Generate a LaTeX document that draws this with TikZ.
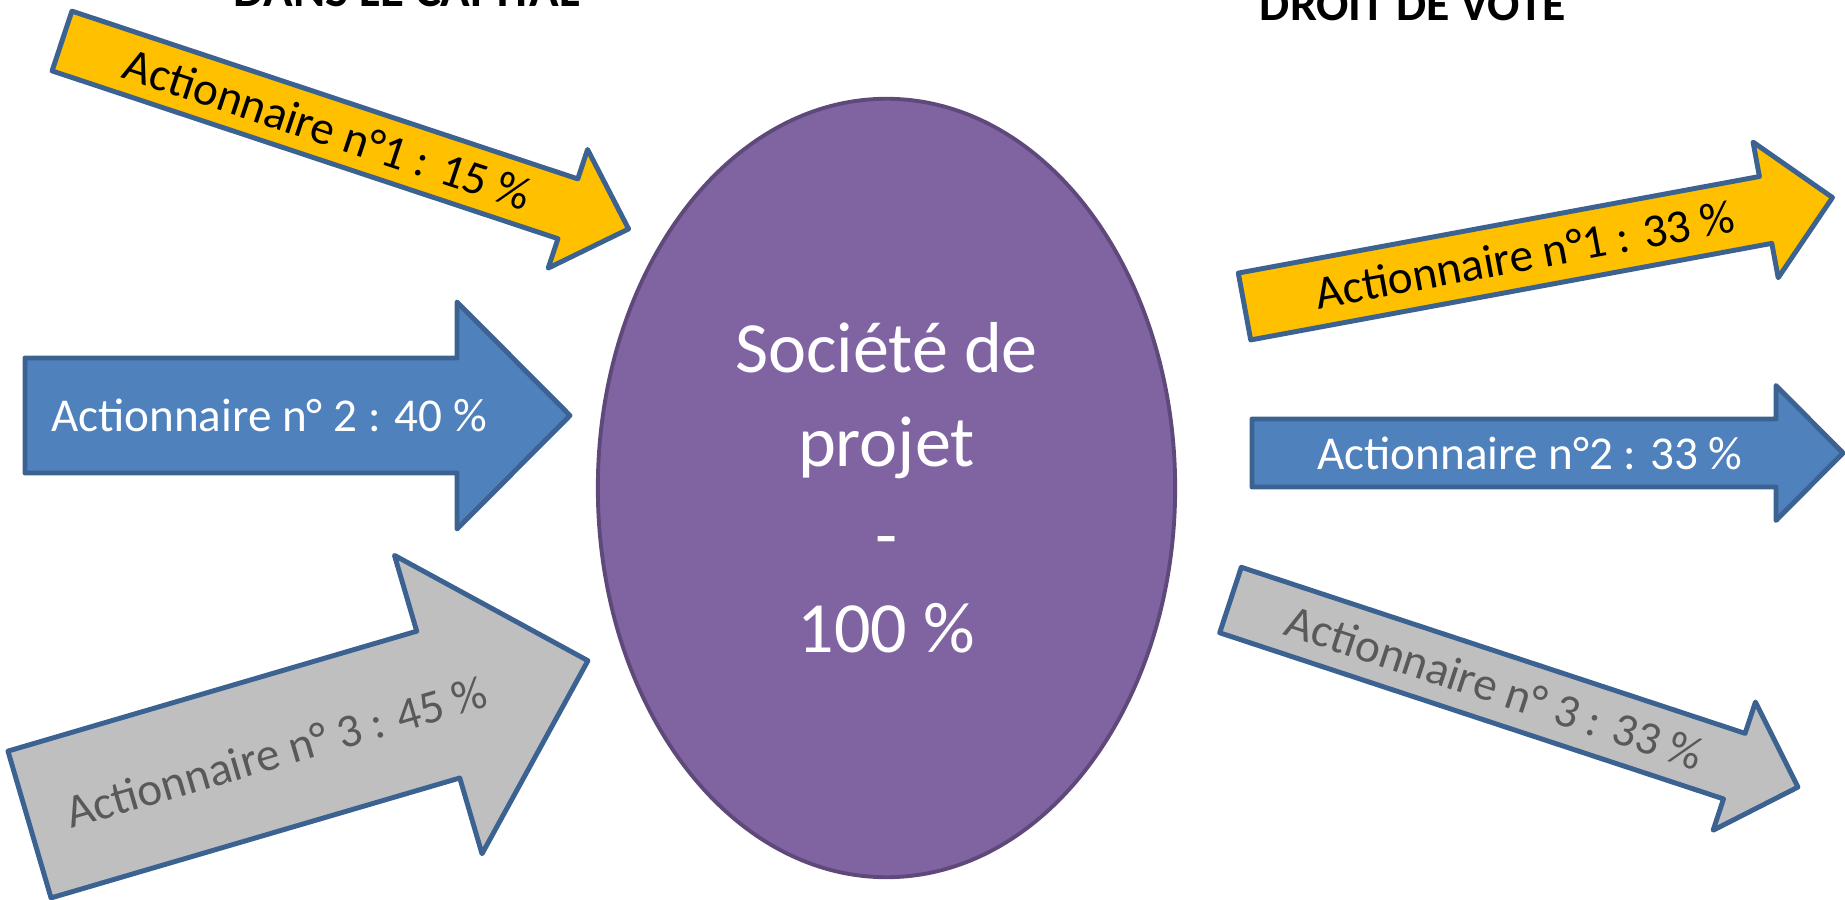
\documentclass[tikz,border=0pt]{standalone}
\usepackage{fontspec}
\setmainfont{Carlito}
\usepackage{tikz}
\usetikzlibrary{shapes.geometric}

\definecolor{jaune}{HTML}{FFC000}
\definecolor{bleu}{HTML}{4F81BD}
\definecolor{gris}{HTML}{BFBFBF}
\definecolor{grisfonce}{HTML}{595959}
\definecolor{bordfleche}{HTML}{3B6291}
\definecolor{violet}{HTML}{8064A2}
\definecolor{bordviolet}{HTML}{5F497A}

\begin{document}
\begin{tikzpicture}[x=0.01cm, y=-0.01cm,
  fleche/.style={draw=bordfleche, line width=1.4pt, line join=round},
  etiq/.style={font=\fontsize{13.4}{16}\selectfont, inner sep=0pt},
  titre/.style={font=\bfseries\fontsize{13.6}{16}\selectfont, anchor=base, inner sep=0pt}]

\useasboundingbox (0,0) rectangle (1845,900);

%//titres, coupes par le haut
\node [titre, font=\bfseries\fontsize{13.9}{16}\selectfont] (capital) at (407,6) {DANS LE CAPITAL};
\node [titre] (vote) at (1413,21) {DROIT DE VOTE};

%//la societe
\node [ellipse, draw=bordviolet, line width=1.1pt, fill=violet, text=white,
       minimum width=5.77cm, minimum height=7.78cm, align=center,
       font=\fontsize{20.5}{26.5}\selectfont] (societe) at (886.5,488)
      {Soci\'et\'e de\\projet\\-\\100 \%};

%//fleches : nom/x/y/angle/longueur/largeur/tete/pointe/fond/texte/position/etiquette
\foreach \nom/\x/\y/\ang/\lon/\lar/\ltete/\ptete/\fond/\tcol/\pos/\txt in {
  a1/62/41/-18.35/597/63/125/64/jaune/black/280/{Actionnaire n°1 : 15 \%},
  a2/25/415.5/0/545/115/227/113/bleu/white/244/{Actionnaire n° 2 : 40 \%},
  a3/29.5/824.5/16.35/582/153/311/156/gris/grisfonce/257/{Actionnaire n° 3 : 45 \%},
  b1/1244.5/306.5/10.5/598/68/138/68/jaune/black/285/{Actionnaire n°1 : 33 \%},
  b2/1252/453/0/591/68/135/67/bleu/white/278/{Actionnaire n°2 : 33 \%},
  b3/1230.5/600/-18.25/597.5/69/135/67/gris/grisfonce/278.5/{Actionnaire n° 3 : 33 \%}}
{
\begin{scope}[shift={(\x,\y)}, rotate=\ang]
\draw [fleche, fill=\fond] (0,-\lar/2) -- (\lon-\ptete,-\lar/2) -- (\lon-\ptete,-\ltete/2)
  -- (\lon,0) -- (\lon-\ptete,\ltete/2) -- (\lon-\ptete,\lar/2) -- (0,\lar/2) -- cycle;
\node [etiq, text=\tcol, rotate=\ang] (\nom) at (\pos,0) {\txt};
\end{scope}
}

\end{tikzpicture}
\end{document}
